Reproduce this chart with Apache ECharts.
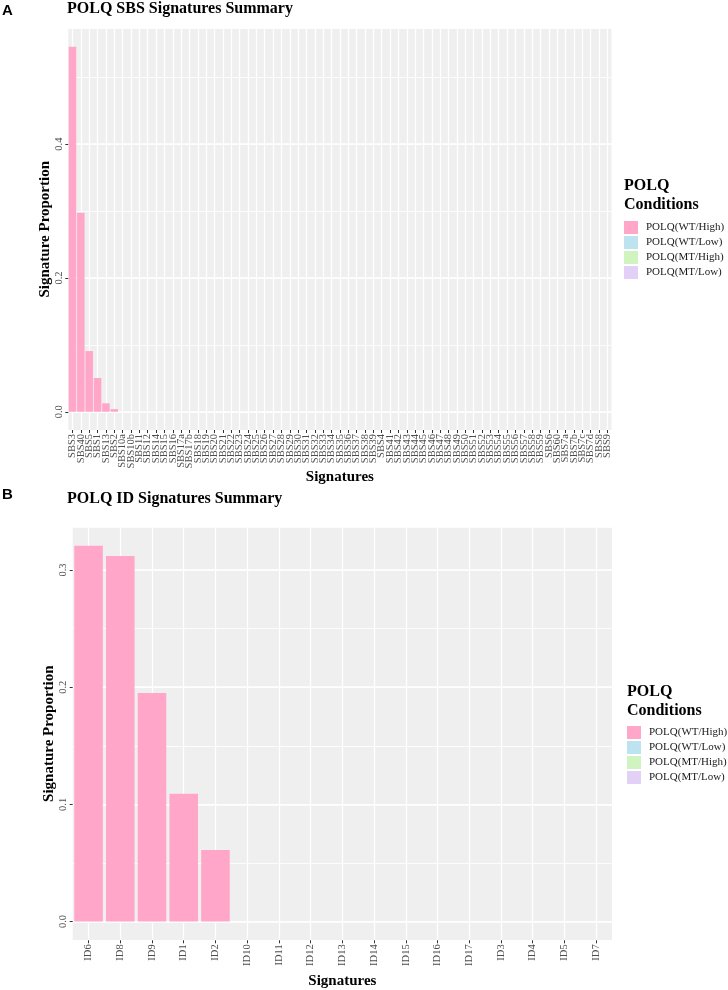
<!DOCTYPE html>
<html><head><meta charset="utf-8">
<script src="https://cdn.jsdelivr.net/npm/echarts@6/dist/echarts.min.js"></script>
<style>html,body{margin:0;padding:0;background:#fff}#c{width:728px;height:990px}</style>
</head><body><div id="c"></div>
<script>
// ---- data ----
const sbsCategories = ['SBS3','SBS40','SBS5','SBS1','SBS13','SBS2','SBS10a','SBS10b','SBS11','SBS12','SBS14','SBS15','SBS16','SBS17a','SBS17b','SBS18','SBS19','SBS20','SBS21','SBS22','SBS23','SBS24','SBS25','SBS26','SBS27','SBS28','SBS29','SBS30','SBS31','SBS32','SBS33','SBS34','SBS35','SBS36','SBS37','SBS38','SBS39','SBS4','SBS41','SBS42','SBS43','SBS44','SBS45','SBS46','SBS47','SBS48','SBS49','SBS50','SBS51','SBS52','SBS53','SBS54','SBS55','SBS56','SBS57','SBS58','SBS59','SBS6','SBS60','SBS7a','SBS7b','SBS7c','SBS7d','SBS8','SBS9'];
const sbsWTHigh = [0.5456,0.2975,0.0907,0.0504,0.0126,0.004,0,0,0,0,0,0,0,0,0,0,0,0,0,0,0,0,0,0,0,0,0,0,0,0,0,0,0,0,0,0,0,0,0,0,0,0,0,0,0,0,0,0,0,0,0,0,0,0,0,0,0,0,0,0,0,0,0,0,0];
const idCategories = ['ID6','ID8','ID9','ID1','ID2','ID10','ID11','ID12','ID13','ID14','ID15','ID16','ID17','ID3','ID4','ID5','ID7'];
const idWTHigh = [0.3207,0.3120,0.195,0.109,0.061,0,0,0,0,0,0,0,0,0,0,0,0];
const conditions = ['POLQ(WT/High)','POLQ(WT/Low)','POLQ(MT/High)','POLQ(MT/Low)'];
const sbsTickValues = [0, 0.2, 0.4];
const idTickValues = [0, 0.1, 0.2, 0.3];

// ---- style ----
const palette = ['#FFA6C9','#BEE3F0','#CFF4C0','#E3D0F6'];
const serif = 'Liberation Serif';
const panelBg = '#EFEFEF';

const conditionData = [[sbsWTHigh, [], [], []], [idWTHigh, [], [], []]];
const sbsMax = Math.max(...sbsWTHigh), idMax = Math.max(...idWTHigh);
const ranges = [[-0.05*sbsMax, 1.05*sbsMax], [-0.05*idMax, 1.05*idMax]];

function xAxisDef(gi, cats, gap) {
  return {
    type: 'category', gridIndex: gi, data: cats,
    axisLine: {show: false, onZero: false},
    axisTick: {show: true, alignWithLabel: true, length: 3, lineStyle: {color: '#333', width: 1}},
    axisLabel: {interval: 0, rotate: 90, fontSize: 10.5, fontFamily: serif, color: '#4d4d4d', margin: 4},
    splitLine: {show: true, interval: 0, alignWithLabel: true, lineStyle: {color: '#fff', width: 1.3}},
    name: 'Signatures', nameLocation: 'middle', nameGap: gap, nameMoveOverlap: false,
    nameTextStyle: {fontFamily: serif, fontWeight: 'bold', fontSize: 15, color: '#000'}
  };
}
function yMajor(gi, r, split, ticks) {
  return {
    type: 'value', gridIndex: gi, min: r[0], max: r[1], splitNumber: split,
    axisLine: {show: false},
    axisTick: {show: true, customValues: ticks, length: 3, lineStyle: {color: '#333'}},
    axisLabel: {customValues: ticks, rotate: 90, fontSize: 10.5, fontFamily: serif, color: '#4d4d4d', margin: 4,
      formatter: v => v.toFixed(1)},
    splitLine: {show: true, lineStyle: {color: '#fff', width: 1.5}},
    name: 'Signature Proportion', nameLocation: 'middle', nameGap: 16, nameMoveOverlap: false,
    nameTextStyle: {fontFamily: serif, fontWeight: 'bold', fontSize: 15, color: '#000'}
  };
}
function yMinor(gi, r, split) {
  return {
    type: 'value', gridIndex: gi, min: r[0], max: r[1], splitNumber: split, position: 'left',
    axisLine: {show: false}, axisTick: {show: false}, axisLabel: {show: false},
    splitLine: {show: true, lineStyle: {color: '#fff', width: 0.8}}
  };
}

const series = [];
[0, 1].forEach(gi => {
  conditions.forEach((c, i) => {
    series.push({
      type: 'bar', name: c, xAxisIndex: gi, yAxisIndex: gi * 2, stack: 'g' + gi,
      barCategoryGap: '10%', data: conditionData[gi][i],
      itemStyle: {color: palette[i]}, silent: true
    });
  });
});

const titleStyle = {fontFamily: serif, fontWeight: 'bold', fontSize: 16, color: '#000'};
const panelLetter = {fontFamily: 'Liberation Sans', fontWeight: 'bold', fontSize: 15, color: '#000'};
const legTitle = {fontFamily: serif, fontWeight: 'bold', fontSize: 16, lineHeight: 19, color: '#000'};

const legendDef = (left, top) => ({
  data: conditions, orient: 'vertical', left: left, top: top, padding: 0,
  itemWidth: 14, itemHeight: 13, itemGap: 2, icon: 'rect', selectedMode: false,
  textStyle: {fontFamily: serif, fontSize: 11, color: '#1a1a1a', padding: [0, 0, 0, 3]}
});

const option = {
  animation: false,
  backgroundColor: '#fff',
  title: [
    {text: 'A', left: 2, top: 3, padding: 0, textStyle: panelLetter},
    {text: 'POLQ SBS Signatures Summary', left: 67, top: 1, padding: 0, textStyle: titleStyle},
    {text: 'B', left: 2, top: 487, padding: 0, textStyle: panelLetter},
    {text: 'POLQ ID Signatures Summary', left: 67, top: 491, padding: 0, textStyle: titleStyle},
    {text: 'POLQ\nConditions', left: 624, top: 176, padding: 0, textStyle: legTitle},
    {text: 'POLQ\nConditions', left: 627, top: 682, padding: 0, textStyle: legTitle}
  ],
  legend: [legendDef(624, 221), legendDef(627, 726)],
  grid: [
    {left: 68.3, right: 116.5, top: 28.5, height: 401.5, show: true, backgroundColor: panelBg, borderWidth: 0},
    {left: 72.7, right: 116, top: 527, height: 413.3, show: true, backgroundColor: panelBg, borderWidth: 0}
  ],
  xAxis: [xAxisDef(0, sbsCategories, 40), xAxisDef(1, idCategories, 33)],
  yAxis: [yMajor(0, ranges[0], 3, sbsTickValues), yMinor(0, ranges[0], 6),
          yMajor(1, ranges[1], 4, idTickValues), yMinor(1, ranges[1], 7)],
  series: series
};
const chart = echarts.init(document.getElementById('c'), null, {renderer: 'canvas'});
chart.setOption(option);
</script></body></html>
